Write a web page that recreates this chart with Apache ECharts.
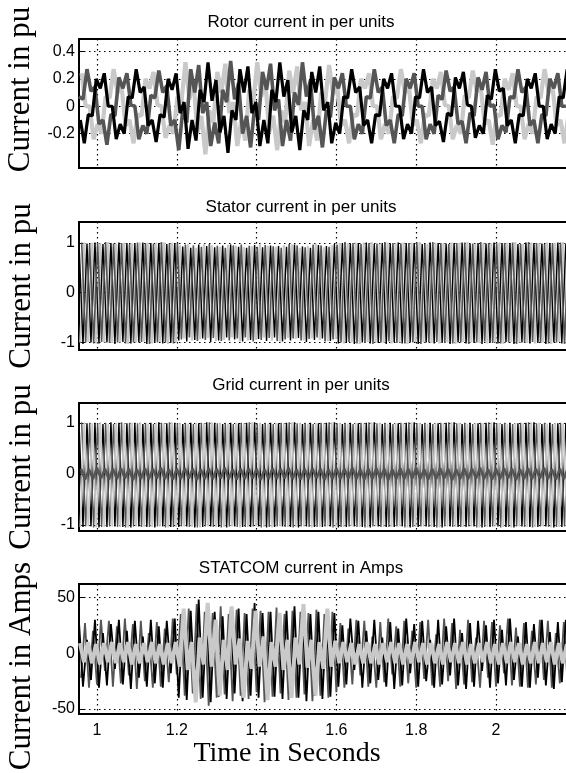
<!DOCTYPE html>
<html><head><meta charset="utf-8">
<script src="https://cdn.jsdelivr.net/npm/echarts@6/dist/echarts.min.js"></script>
<style>html,body{margin:0;padding:0;background:#fff}#c{width:566px;height:773px}</style>
</head><body><div id="c"></div>
<script>
// ---- time axis ----
const T0 = 0.955;          // first sample time (s)
const DT = 0.01;           // sample step (s)
const xTicks = [1, 1.2, 1.4, 1.6, 1.8, 2];
const rotorTicks = [-0.2, 0, 0.2, 0.4];
const puTicks = [-1, 0, 1];
const ampTicks = [-50, 0, 50];
const titles = ['Rotor current in per units', 'Stator current in per units', 'Grid current in per units', 'STATCOM current in Amps'];
const yNames = ['Current in pu', 'Current in pu', 'Current in pu', 'Current in Amps'];
const xName = 'Time in Seconds';

// ---- rotor current (pu), three phases ----
const rotorA = [
.07,.05,.27,.11,.14,-.13,-.1,-.28,-.06,-.07,.21,.13,.24,.01,0,-.24,-.14,-.2,.08,.06,.26,.1,.15,-.14,-.1,
-.32,-.03,-.12,.27,.1,.3,-.05,.03,-.29,-.12,-.27,.12,.03,.33,.05,.17,-.2,-.07,-.3,-.01,-.1,.25,.12,.31,-.03,.05,-.29,-.1,-.25,.1,.01,.32,.07,.19,-.17,-.07,-.3,-.03,-.08,.21,
.13,.24,0,0,-.24,-.13,-.2,
.07,.06,.27,.1,.14,-.14,-.1,-.27,-.06,-.07,.2,.13,.24,0,0,-.24,-.13,-.2,
.08,.05,.26,.11,.14,-.13,-.11,-.27,-.05,-.07,.21,.12,.25,0,.01,-.24,-.14,-.19,
.07,.06,.27,.1,.14,-.14,-.1,-.27,-.06,-.07,.2,.13,.24,0,0];
const rotorB = [
-.1,-.27,-.06,-.07,.2,.13,.24,0,0,-.24,-.13,-.2,.07,.06,.27,.1,.14,-.14,-.1,-.26,-.06,-.08,.2,.12,.24,
-.05,.03,-.31,-.1,-.25,.12,.03,.32,.04,.19,-.19,-.07,-.34,-.03,-.1,.27,.1,.29,-.05,.03,-.29,-.1,-.27,.12,.03,.32,.07,.19,-.19,-.07,-.32,-.03,-.1,.25,.1,.29,-.03,.03,-.27,-.12,
-.2,.07,.06,.27,.1,.14,-.14,
-.1,-.27,-.06,-.07,.2,.13,.24,0,0,-.24,-.13,-.2,.07,.06,.27,.1,.14,-.14,
-.11,-.26,-.05,-.07,.21,.13,.25,.01,0,-.23,-.14,-.2,.08,.05,.27,.11,.13,-.14,
-.1,-.27,-.06,-.07,.2,.13,.24,0,0,-.24,-.13,-.2,.07,.06,.27];
const rotorC = [
.24,0,0,-.24,-.13,-.2,.07,.06,.27,.1,.14,-.14,-.1,-.27,-.06,-.07,.2,.13,.25,.01,0,-.23,-.14,-.2,.07,
.03,.32,.05,.19,-.19,-.07,-.35,-.03,-.12,.25,.1,.31,-.05,.03,-.29,-.1,-.25,.12,.03,.32,.07,.19,-.19,-.07,-.32,-.03,-.12,.26,.1,.29,-.03,.03,-.29,-.1,-.25,.1,.03,.3,.09,.15,
-.14,-.1,-.27,-.06,-.07,.2,.13,
.24,0,0,-.24,-.13,-.2,.07,.06,.27,.1,.14,-.14,-.1,-.27,-.06,-.07,.2,.13,
.25,.01,0,-.24,-.14,-.2,.08,.06,.26,.11,.14,-.13,-.1,-.28,-.06,-.07,.2,.12,
.24,0,0,-.24,-.13,-.2,.07,.06,.27,.1,.14,-.14,-.1,-.27,-.06];
const rotorStart = [0, 0.0033, 0.0067];

// ---- stator current (pu), peak values per half cycle ----
const statorA = [
1,-1.03,.99,-1,1.01,-1.02,.98,-1,1,-1.03,1.01,-.99,1,-1.02,.99,-1,1.01,-1.03,1,-.99,1,-1.02,.98,-1.01,1,
-.96,.93,-.98,.9,-.95,.97,-.92,.94,-.99,.91,-.96,.95,-.9,.97,-.94,.92,-.98,.9,-.95,.96,-.93,.91,-.97,.95,-.9,.94,-.98,.92,-.96,.97,-.91,.93,-.99,.9,-.95,.96,-.92,.94,-.97,.98,
-1.02,1,-1.01,.99,-1.03,1,-1,1.01,-1.02,.98,-1.01,1,-1.03,.99,-1,1.01,-1.02,1,-.99,1,
-1.03,.98,-1,1.01,-1.02,1,-1.01,.99,-1.03,1,-1,1.01,-1.02,.98,-1.01,1,-1.03,.99,-1,1.01,
-1.02,1,-.99,1,-1.03,.98,-1,1.01,-1.02,1,-1.01,.99,-1.03,1,-1,1.01,-1.02,.98];
const statorB = [
1.01,-1,.98,-1.02,1,-.99,1.02,-1.01,.99,-1,1,-1.02,.98,-1,1.01,-.99,1,-1.03,.99,-1,1.02,-1,.99,-1.02,1,
-.94,.97,-.9,.95,-.97,.92,-.95,.98,-.91,.94,-.97,.9,-.96,.95,-.92,.97,-.9,.94,-.98,.92,-.95,.96,-.91,.93,-.97,.9,-.94,.98,-.92,.95,-.96,.91,-.93,.97,-.9,.95,-.98,.92,-.94,.97,
-1,1.02,-.99,1,-1.02,.98,-1.01,1,-1.03,.99,-1,1.02,-.98,1,-1.01,.99,-1.02,1,-1,1.01,
-1.03,.98,-1,1.02,-.99,1,-1.01,.98,-1.02,1,-1,1.01,-1.03,.99,-1,1.02,-.98,1,-1.01,.99,
-1.02,1,-1,1.01,-1.03,.98,-1,1.02,-.99,1,-1.01,.98,-1.02,1,-1,1.01,-1.03,.99];
const statorC = [
-1,1.01,-.99,1,-1.02,.99,-1,1.02,-1.01,.98,-1,1,-1.03,.99,-1,1.01,-.98,1,-1.02,1,-.99,1.01,-1.03,1,-1,
.95,-.92,.97,-.96,.9,-.94,.98,-.91,.95,-.97,.92,-.95,.96,-.9,.94,-.98,.91,-.96,.93,-.95,.97,-.9,.94,-.96,.92,-.98,.95,-.91,.97,-.93,.9,-.96,.94,-.92,.98,-.95,.91,-.97,.95,-.93,
1,-1.02,.99,-1,1.01,-1.03,1,-.99,1.02,-1,.98,-1.01,1,-1.02,.99,-1,1.01,-1.03,1,-.99,
1.02,-1,.98,-1.01,1,-1.02,.99,-1,1.01,-1.03,1,-.99,1.02,-1,.98,-1.01,1,-1.02,.99,-1,
1.01,-1.03,1,-.99,1.02,-1,.98,-1.01,1,-1.02,.99,-1,1.01,-1.03,1,-.99,1.02,-1];
const statorStart = [0, 0.00667, 0.00333];

// ---- grid current (pu) ----
const gridA = [
1,-1.04,.99,-1.03,1,-1.05,.98,-1.04,1.01,-1.03,1,-1.04,.99,-1.05,1,-1.03,.98,-1.04,1,-1.05,
1.01,-1.03,.99,-1.04,1,-1.04,.98,-1.03,1,-1.05,.99,-1.04,1.01,-1.03,1,-1.04,.98,-1.05,1,-1.03,
.99,-1.04,1,-1.04,1.01,-1.03,.98,-1.05,1,-1.04,.99,-1.03,1,-1.04,1.01,-1.05,.98,-1.03,1,-1.04,
.99,-1.04,1,-1.03,1.01,-1.05,.98,-1.04,1,-1.03,.99,-1.04,1,-1.05,1.01,-1.03,.98,-1.04,1,-1.04,
.99,-1.03,1,-1.05,1.01,-1.04,.98,-1.03,1,-1.04,.99,-1.05,1,-1.03,1.01,-1.04,.98,-1.04,1,-1.03,
.99,-1.05,1,-1.04,1.01,-1.03,.98,-1.04,1,-1.05,.99,-1.03,1,-1.04,1.01,-1.04,.98,-1.03,1,-1.05,
.99,-1.04,1];
const gridB = [
1.01,-1.03,1,-1.05,.99,-1.04,1,-1.03,.98,-1.04,1.01,-1.05,1,-1.03,.99,-1.04,1,-1.04,.98,-1.03,
1,-1.05,1.01,-1.04,.99,-1.03,1,-1.04,.98,-1.05,1,-1.03,1.01,-1.04,.99,-1.05,1,-1.03,.98,-1.04,
1,-1.04,1.01,-1.03,.99,-1.05,1,-1.04,.98,-1.03,1,-1.04,1.01,-1.05,.99,-1.03,1,-1.04,.98,-1.04,
1,-1.03,1.01,-1.05,.99,-1.04,1,-1.03,.98,-1.04,1,-1.05,1.01,-1.03,.99,-1.04,1,-1.04,.98,-1.03,
1,-1.05,1.01,-1.04,.99,-1.03,1,-1.04,.98,-1.05,1,-1.03,1.01,-1.04,.99,-1.04,1,-1.03,.98,-1.05,
1,-1.04,1.01,-1.03,.99,-1.05,1,-1.04,.98,-1.03,1,-1.04,1.01,-1.05,.99,-1.03,1,-1.04,.98,-1.04,
1,-1.03,1.01];
const gridC = [
-1.04,1,-1.03,.99,-1.05,1.01,-1.04,.98,-1.03,1,-1.04,.99,-1.05,1,-1.03,1.01,-1.04,.98,-1.04,1,
-1.03,.99,-1.05,1.01,-1.04,1,-1.03,.98,-1.04,1,-1.05,.99,-1.03,1.01,-1.04,1,-1.04,.98,-1.03,1,
-1.05,.99,-1.04,1.01,-1.03,1,-1.04,.98,-1.05,1,-1.03,.99,-1.04,1.01,-1.04,1,-1.03,.98,-1.05,1,
-1.04,.99,-1.03,1.01,-1.05,1,-1.04,.98,-1.03,1,-1.04,.99,-1.05,1.01,-1.03,1,-1.04,.98,-1.04,1,
-1.03,.99,-1.05,1.01,-1.04,1,-1.03,.98,-1.04,1,-1.05,.99,-1.03,1.01,-1.04,1,-1.04,.98,-1.03,1,
-1.05,.99,-1.04,1.01,-1.03,1,-1.04,.98,-1.05,1,-1.03,.99,-1.04,1.01,-1.04,1,-1.03,.98,-1.05,1,
-1.04,.99,-1.03];
const gridRipple = [
.1,-.11,.09,-.1,.12,-.09,.1,-.11,.1,-.1,.11,-.09,.1,-.12,.09,-.1,.11,-.1,.1,-.09,
.12,-.1,.09,-.11,.1,-.1,.11,-.09,.1,-.12,.09,-.1,.11,-.1,.1,-.09,.12,-.1,.09,-.11,
.1,-.1,.11,-.09,.1,-.12,.09,-.1,.11,-.1,.1,-.09,.12,-.1,.09,-.11,.1,-.1,.11,-.09,
.1,-.12,.09,-.1,.11,-.1,.1,-.09,.12,-.1,.09,-.11,.1,-.1,.11,-.09,.1,-.12,.09,-.1,
.11,-.1,.1,-.09,.12,-.1,.09,-.11,.1,-.1,.11,-.09,.1,-.12,.09,-.1,.11,-.1,.1,-.09,
.12,-.1,.09,-.11,.1,-.1,.11,-.09,.1,-.12,.09,-.1,.11,-.1,.1,-.09,.12,-.1,.09,-.11,
.1,-.1,.11];
const gridStart = [0, 0.00667, 0.00333, 0.005];

// ---- STATCOM current (A) ----
const statA = [
28,-30,12,-24,30,-31,18,-29,26,-14,30,-28,20,-32,29,-22,15,-30,30,-27,24,-31,29,-18,31,
-40,36,-42,38,-36,48,-40,35,-44,37,-39,33,-41,38,-36,40,-43,35,-38,45,-40,36,-42,37,-39,34,-41,38,-37,42,-40,36,-43,35,-38,37,-41,34,-39,36,
-30,25,-28,31,-15,29,-31,20,-27,30,-24,14,-30,28,-32,22,-29,31,-18,26,
-30,29,-25,12,-31,30,-28,24,-20,31,-29,18,-32,27,-30,29,-16,25,-31,30,
-27,21,-29,31,-24,15,-30,28,-31,26,-22,30,-29,19,-32,28,-26,30];
const statB = [
-22,27,-31,20,-28,30,-16,29,-30,24,-27,31,-20,26,-32,29,-25,18,-31,28,-30,22,-26,31,-19,
35,-38,40,-36,44,-41,37,-47,36,-40,42,-37,35,-43,39,-38,36,-41,40,-35,38,-44,37,-39,41,-36,35,-42,38,-40,37,-37,36,-43,39,-38,35,-40,37,-35,
27,-31,22,-28,30,-20,29,-30,15,-31,28,-26,31,-19,24,-30,29,-27,20,-31,
28,-23,30,-29,17,-30,31,-25,27,-32,21,-28,30,-26,14,-31,29,-22,28,-30,
25,-18,31,-29,23,-30,27,-31,20,-28,30,-24,29,-31,18,-27,28,-30];
const statC = [
9,-8,10,-9,8,-10,9,-8,10,-9,9,-8,10,-10,8,-9,9,-8,10,-9,8,-10,9,-9,10,
-12,40,-15,10,-44,14,-10,45,-12,30,-38,12,-15,42,-10,13,-40,11,-14,38,-12,15,-42,10,-12,36,-15,12,-40,14,-10,44,-13,12,-38,10,-14,40,-12,11,
-9,10,-8,9,-10,8,-9,10,-9,8,-10,9,-8,10,-9,9,-10,8,-9,10,-8,9,-10,9,-9,8,-10,10,-8,9,
-9,10,-10,8,-9,9,-8,10,-9,8,-10,9,-9,10,-8,9,-10,8,-9,10,-9,9,-8,10,-10,9,-9,8];
const statStart = [0, 0.005, 0.0025];

// ---- build ----
function pts(vals, start) {
  return vals.map((v, i) => [+(T0 + start + DT * i).toFixed(5), v]);
}
const BLACK = '#000000', DARK = '#555555', LIGHT = '#c9c9c9';
const panels = [
  {top: 39, height: 129, min: -0.45, max: 0.49, ticks: rotorTicks, pad: [0, 0, 0, 28], titleTop: 9},
  {top: 222, height: 128, min: -1.15, max: 1.42, ticks: puTicks, pad: [0, 0, 0, 0], titleTop: 194},
  {top: 403, height: 128, min: -1.12, max: 1.39, ticks: puTicks, pad: [0, 0, 0, 0], titleTop: 372},
  {top: 584, height: 130, min: -54.5, max: 62, ticks: ampTicks, pad: [0, 34, 0, 0], titleTop: 555}
];
const gridDots = {show: true, lineStyle: {color: '#000', width: 1.2, type: [1.5, 3.5]}};
const tickFont = {fontFamily: 'Liberation Sans, Arial, sans-serif', fontSize: 16, color: '#000'};

function line(g, vals, start, color, width) {
  return {type: 'line', xAxisIndex: g, yAxisIndex: g, data: pts(vals, start), symbol: 'none', showSymbol: false,
    silent: true, lineStyle: {color: color, width: width}, clip: true};
}

const option = {
  animation: false,
  backgroundColor: '#fff',
  title: titles.map((t, i) => ({text: t, left: 296, top: panels[i].titleTop, textAlign: 'center',
    textStyle: {fontFamily: 'Liberation Sans, Arial, sans-serif', fontSize: 17, fontWeight: 'normal', color: '#000'}})),
  grid: panels.map(p => ({left: 79, width: 500, top: p.top, height: p.height, show: true, outerBoundsMode: 'none',
    borderColor: '#000', borderWidth: 2, backgroundColor: 'rgba(0,0,0,0)'})),
  xAxis: panels.map((p, i) => ({
    type: 'value', gridIndex: i, min: 0.955, max: 2.208,
    axisLine: {show: false},
    axisTick: {show: true, inside: true, length: 5, customValues: xTicks, lineStyle: {color: '#000'}},
    axisLabel: {show: i === 3, customValues: xTicks, margin: 9, ...tickFont},
    splitLine: gridDots,
    name: i === 3 ? xName : '', nameLocation: 'middle', nameGap: 22,
    nameTextStyle: {fontFamily: 'Liberation Serif, Times New Roman, serif', fontSize: 28, color: '#000', padding: [0, 84, 0, 0]}
  })),
  yAxis: panels.map((p, i) => ({
    type: 'value', gridIndex: i, min: p.min, max: p.max,
    axisLine: {show: false},
    axisTick: {show: true, inside: true, length: 5, customValues: p.ticks, lineStyle: {color: '#000'}},
    axisLabel: {show: true, customValues: p.ticks, margin: 4, ...tickFont},
    splitLine: gridDots,
    name: yNames[i], nameLocation: 'middle', nameRotate: 90, nameGap: 42,
    nameTextStyle: {fontFamily: 'Liberation Serif, Times New Roman, serif', fontSize: 31, color: '#000', padding: p.pad}
  })),
  series: [
    line(0, rotorC, rotorStart[2], LIGHT, 4.2),
    line(0, rotorA, rotorStart[0], DARK, 3.6),
    line(0, rotorB, rotorStart[1], BLACK, 3.2),
    line(1, statorC, statorStart[2], LIGHT, 2.2),
    line(1, statorA, statorStart[0], BLACK, 1.4),
    line(1, statorB, statorStart[1], DARK, 1.6),
    line(2, gridA, gridStart[0], BLACK, 1.4),
    line(2, gridB, gridStart[1], DARK, 1.4),
    line(2, gridC, gridStart[2], LIGHT, 1.8),
    line(2, gridRipple, gridStart[3], DARK, 2.5),
    line(3, statB, statStart[1], DARK, 1.8),
    line(3, statA, statStart[0], BLACK, 1.8),
    line(3, statC, statStart[2], LIGHT, 4)
  ]
};
const chart = echarts.init(document.getElementById('c'), null, {renderer: 'canvas', width: 566, height: 773});
chart.setOption(option);
</script></body></html>
